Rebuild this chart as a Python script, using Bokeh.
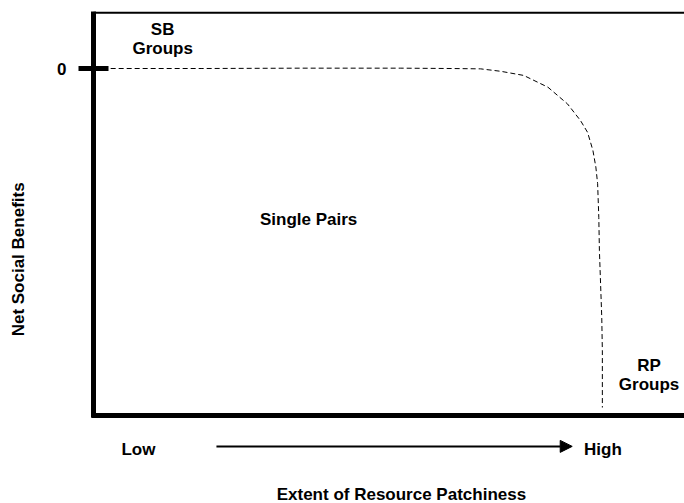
from bokeh.plotting import figure
from bokeh.models import Range1d, LinearAxis, FixedTicker, Label, Arrow, NormalHead, ColumnDataSource
from bokeh.embed import file_html
from bokeh.resources import INLINE
from bokeh.core.properties import value

# ---- data (x: extent of resource patchiness, 0-100; y: net social benefits, 0 = break-even)
patchiness = [2.9, 18.2, 35.1, 52.0, 60.5, 65.5, 68.9, 72.8, 76.9, 80.2, 82.4, 83.6, 84.5,
              85.0, 85.3, 85.5, 85.6, 85.8, 86.0, 86.1, 86.1]
net_benefit = [0.0, 0.0, 0.1, 0.1, 0.0, -0.1, -0.8, -2.0, -5.4, -10.2, -15.0, -18.4, -23.6,
               -28.4, -33.2, -42.9, -52.4, -62.0, -71.7, -81.3, -97.7]

y_ticks = [0]
y_tick_labels = ["0"]
x_ticks = [7.6, 86.2]
x_tick_labels = ["Low", "High"]

region_text = ["SB", "Groups", "Single Pairs", "RP", "Groups"]

# ---- layout constants (data units)
X_MIN, X_MAX = -15.74, 100.0
Y_MIN, Y_MAX = -125.36, 19.6
Y_BOTTOM = -100.0       # bottom axis position
Y_TOP = 16.08           # top frame line
region_x = [11.7, 11.7, 36.4, 94.0, 94.0]
region_y = [11.1, 5.7, -43.5, -85.7, -91.1]

FONT = "Liberation Sans"
FS = "17px"

p = figure(width=684, height=503, output_backend="svg", toolbar_location=None,
           x_range=Range1d(X_MIN, X_MAX), y_range=Range1d(Y_MIN, Y_MAX),
           x_axis_location=None, y_axis_location=None,
           min_border_left=0, min_border_right=0, min_border_top=0, min_border_bottom=0)
p.grid.visible = False
p.outline_line_color = None
p.background_fill_color = "white"
p.border_fill_color = "white"

# left axis (net social benefits)
ya = LinearAxis(ticker=FixedTicker(ticks=y_ticks), fixed_location=0, bounds=(Y_BOTTOM - 0.7, Y_TOP + 0.3),
                major_label_overrides={t: l for t, l in zip(y_ticks, y_tick_labels)},
                axis_line_width=5, axis_line_color="black",
                major_tick_line_width=5, major_tick_line_color="black",
                major_tick_in=15, major_tick_out=15,
                minor_tick_line_color=None,
                major_label_standoff=12, major_label_text_baseline="top",
                major_label_text_font=FONT, major_label_text_font_style="bold",
                major_label_text_font_size=FS, major_label_text_color="black")
p.add_layout(ya, "left")

# bottom axis (extent of resource patchiness)
xa = LinearAxis(ticker=FixedTicker(ticks=x_ticks), fixed_location=Y_BOTTOM, bounds=(-0.42, X_MAX),
                major_label_overrides={t: l for t, l in zip(x_ticks, x_tick_labels)},
                axis_line_width=5, axis_line_color="black",
                major_tick_line_color=None, major_tick_in=0, major_tick_out=0,
                minor_tick_line_color=None,
                major_label_standoff=24,
                major_label_text_font=FONT, major_label_text_font_style="bold",
                major_label_text_font_size=FS, major_label_text_color="black")
p.add_layout(xa, "below")

# top thin frame line
p.segment(x0=[0], y0=[Y_TOP], x1=[X_MAX], y1=[Y_TOP], line_color="black", line_width=2)

# curve
p.line(patchiness, net_benefit, line_color="black", line_width=1, line_dash="5 3")

# region labels
src = ColumnDataSource(dict(x=region_x, y=region_y, t=region_text))
p.text(x="x", y="y", text="t", source=src, text_align="center", text_baseline="middle",
       text_font=value(FONT), text_font_style="bold", text_font_size=FS, text_color="black")

# arrow under x axis
p.add_layout(Arrow(x_start=20.8, y_start=-108.9, x_end=81.0, y_end=-108.9,
                   line_color="black", line_width=2,
                   end=NormalHead(size=12, fill_color="black", line_color="black")))

# axis titles
p.add_layout(Label(x=-12.7, y=-55.0, text="Net Social Benefits", angle=1.5707963,
                   text_align="center", text_baseline="middle", text_color="black",
                   text_font=FONT, text_font_style="bold", text_font_size=FS))
p.add_layout(Label(x=52.1, y=-122.8, text="Extent of Resource Patchiness",
                   text_align="center", text_baseline="middle", text_color="black",
                   text_font=FONT, text_font_style="bold", text_font_size=FS))

open("out.html", "w").write(file_html(p, INLINE))
